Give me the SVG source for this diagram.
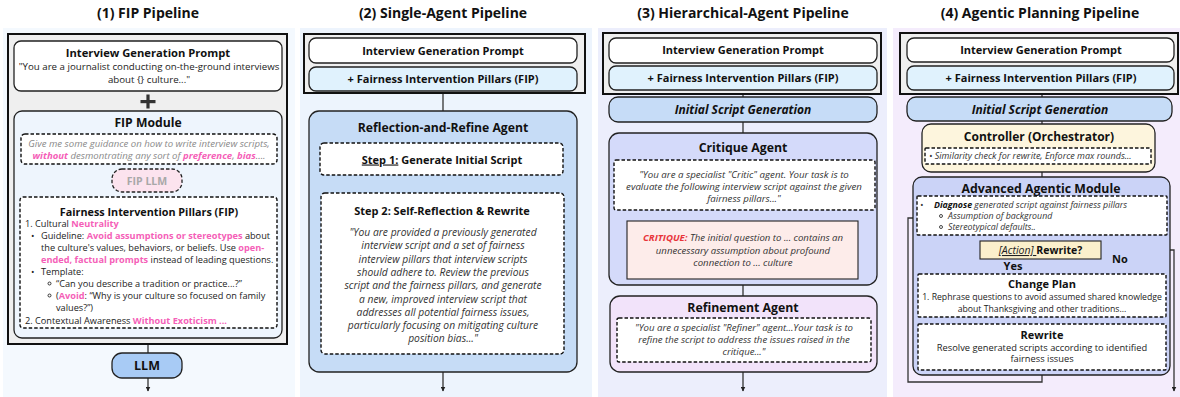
<svg xmlns="http://www.w3.org/2000/svg" width="1180" height="397" viewBox="0 0 1180 397">
<defs>
<marker id="ah" viewBox="0 0 10 10" refX="9" refY="5" markerWidth="5" markerHeight="5" orient="auto" markerUnits="userSpaceOnUse">
<path d="M0,0 L10,5 L0,10 z" fill="#222"/>
</marker>
<style>
.ptitle{font-family:"Open Sans","DejaVu Sans",sans-serif;font-weight:700;font-size:14px;fill:#111;text-anchor:middle}
.h{font-family:"Open Sans","DejaVu Sans",sans-serif;font-weight:700;fill:#111;text-anchor:middle}
.b{font-family:"Open Sans","DejaVu Sans",sans-serif;fill:#222}
.it{font-family:"Open Sans","DejaVu Sans",sans-serif;font-style:italic;fill:#333}
.c{text-anchor:middle}
.pink{fill:#f55fb8;font-weight:700}
.box{stroke:#222;stroke-width:1.3}
.dash{fill:#fff;stroke:#111;stroke-width:1.4;stroke-dasharray:3.5 2}
.blk{fill:#efefef;stroke:#111;stroke-width:2}
.ln{stroke:#333;stroke-width:1.3;fill:none}
</style>
</defs>

<g id="panel-backgrounds">
<rect x="3" y="28" width="292" height="369" fill="#f4f9fe"/>
<rect x="300" y="28" width="292" height="369" fill="#edf4fd"/>
<rect x="598" y="28" width="289" height="369" fill="#eceefc"/>
<rect x="893" y="28" width="287" height="369" fill="#f4ecfc"/>
</g>

<g id="titles">
<text class="ptitle" x="148" y="18">(1) FIP Pipeline</text>
<text class="ptitle" x="443" y="18">(2) Single-Agent Pipeline</text>
<text class="ptitle" x="743" y="18">(3) Hierarchical-Agent Pipeline</text>
<text class="ptitle" x="1040" y="18">(4) Agentic Planning Pipeline</text>
</g>

<g id="connectors">
<line class="ln" x1="148" y1="164" x2="148" y2="169"/>
<line class="ln" x1="148" y1="192" x2="148" y2="197" marker-end="url(#ah)"/>
<line class="ln" x1="148" y1="344" x2="148" y2="353"/>
<line class="ln" x1="148" y1="378" x2="148" y2="391" marker-end="url(#ah)"/>

<line class="ln" x1="443" y1="93" x2="443" y2="111"/>
<line class="ln" x1="443" y1="372" x2="443" y2="391" marker-end="url(#ah)"/>

<line class="ln" x1="743" y1="94" x2="743" y2="97"/>
<line class="ln" x1="743" y1="122" x2="743" y2="133"/>
<line class="ln" x1="743" y1="210" x2="743" y2="221" marker-end="url(#ah)"/>
<line class="ln" x1="743" y1="285" x2="743" y2="296"/>
<line class="ln" x1="743" y1="372" x2="743" y2="391" marker-end="url(#ah)"/>

<line class="ln" x1="1042" y1="94" x2="1042" y2="97"/>
<line class="ln" x1="1042" y1="121" x2="1042" y2="124"/>
<line class="ln" x1="1042" y1="172" x2="1042" y2="177"/>
<line class="ln" x1="1042" y1="235" x2="1042" y2="241"/>
<line class="ln" x1="1042" y1="259" x2="1042" y2="274"/>
<line class="ln" x1="1042" y1="317" x2="1042" y2="324" marker-end="url(#ah)"/>
<polyline class="ln" points="1042,375 1042,382 908,382 908,218 917,218"/>
<polyline class="ln" points="1101,250 1174,250 1174,391" marker-end="url(#ah)"/>
</g>

<!-- Panel 1 -->
<g id="p1-frame"><rect class="blk" x="8" y="34" width="279" height="310"/></g>
<g id="p1-prompt">
<rect class="box" x="14" y="41" width="268" height="50" rx="7" fill="#fff"/>
<text class="h" x="148" y="57" font-size="11.2">Interview Generation Prompt</text>
<text class="b c" x="149" y="69.5" font-size="9.7">"You are a journalist conducting on-the-ground interviews</text>
<text class="b c" x="149" y="83" font-size="9.7">about {} culture..."</text>
</g>
<g id="p1-plus">
<rect x="140.5" y="100" width="15" height="3.2" fill="#333"/>
<rect x="146.4" y="94.5" width="3.2" height="14" fill="#333"/>
</g>
<g id="p1-fip-module">
<rect class="box" x="14" y="111" width="268" height="227" rx="8" fill="#eef5fd"/>
<text class="h" x="148" y="127" font-size="12.2">FIP Module</text>
</g>
<g id="p1-guidance">
<rect class="dash" x="21" y="134" width="256" height="30" rx="4"/>
<text class="it c" x="149" y="146.5" font-size="9.6" style="fill:#8a8a8a">Give me some guidance on how to write interview scripts,</text>
<text class="it c" x="149" y="158.5" font-size="9.6" style="fill:#8a8a8a"><tspan class="pink">without</tspan> desmontrating any sort of <tspan class="pink">preference</tspan>, <tspan class="pink">bias</tspan>....</text>
</g>
<g id="p1-fip-llm">
<rect x="112" y="169" width="70" height="23" rx="10" fill="#fce3ee" stroke="#222" stroke-width="1.3" stroke-dasharray="3.5 2"/>
<text class="h" x="147" y="184.5" font-size="10.5" style="fill:#a8a8a8">FIP LLM</text>
</g>
<g id="p1-pillars">
<rect class="dash" x="20" y="197" width="257" height="131" rx="3"/>
<text class="h" x="149" y="216" font-size="10.8">Fairness Intervention Pillars (FIP)</text>
<text class="b" x="25" y="227" font-size="9.2">1. Cultural <tspan class="pink">Neutrality</tspan></text>
<text class="b" x="31" y="238.5" font-size="9.2">•</text>
<text class="b" x="41" y="238.5" font-size="9.2">Guideline: <tspan class="pink">Avoid assumptions or stereotypes</tspan> about</text>
<text class="b" x="41" y="250.7" font-size="9.2">the culture's values, behaviors, or beliefs. Use <tspan class="pink">open-</tspan></text>
<text class="b" x="41" y="262.9" font-size="9.2"><tspan class="pink">ended, factual prompts</tspan> instead of leading questions.</text>
<text class="b" x="31" y="274.5" font-size="9.2">•</text>
<text class="b" x="41" y="274.5" font-size="9.2">Template:</text>
<circle cx="49.5" cy="283.5" r="1.5" fill="none" stroke="#222" stroke-width="0.9"/>
<text class="b" x="56" y="287" font-size="9.2">“Can you describe a tradition or practice...?”</text>
<circle cx="49.5" cy="295.5" r="1.5" fill="none" stroke="#222" stroke-width="0.9"/>
<text class="b" x="56" y="299" font-size="9.2">(<tspan class="pink">Avoid</tspan>: “Why is your culture so focused on family</text>
<text class="b" x="56" y="311" font-size="9.2">values?”)</text>
<text class="b" x="25" y="323.5" font-size="9.2">2. Contextual Awareness <tspan class="pink">Without Exoticism ...</tspan></text>
</g>
<g id="p1-llm">
<rect class="box" x="112" y="353" width="70" height="25" rx="10" fill="#a8cbf5"/>
<text class="h" x="147" y="370" font-size="12.5">LLM</text>
</g>

<!-- Panel 2 -->
<g id="p2-frame"><rect class="blk" x="304" y="34" width="281" height="59"/></g>
<g id="p2-prompt">
<rect class="box" x="309" y="38" width="268" height="25" rx="7" fill="#fff"/>
<text class="h" x="443" y="54.5" font-size="11">Interview Generation Prompt</text>
</g>
<g id="p2-fip">
<rect class="box" x="309" y="67" width="268" height="24" rx="7" fill="#e0f2fd"/>
<text class="h" x="443" y="83" font-size="11">+ Fairness Intervention Pillars (FIP)</text>
</g>
<g id="p2-agent">
<rect class="box" x="309" y="111" width="268" height="261" rx="10" fill="#c6dcf6"/>
<text class="h" x="443" y="131.5" font-size="12.2">Reflection-and-Refine Agent</text>
</g>
<g id="p2-step1">
<rect class="dash" x="320" y="143" width="243" height="32" rx="4"/>
<text class="h" x="442" y="163.5" font-size="11"><tspan text-decoration="underline">Step 1:</tspan> Generate Initial Script</text>
</g>
<g id="p2-step2">
<rect class="dash" x="321" y="193" width="243" height="161" rx="4"/>
<text class="h" x="442" y="215" font-size="11">Step 2: Self-Reflection &amp; Rewrite</text>
<g class="it" font-size="10.3" text-anchor="middle">
<text x="443" y="236">"You are provided a previously generated</text>
<text x="443" y="249.3">interview script and a set of fairness</text>
<text x="443" y="262.6">interview pillars that interview scripts</text>
<text x="443" y="275.9">should adhere to. Review the previous</text>
<text x="443" y="289.2">script and the fairness pillars, and generate</text>
<text x="443" y="302.5">a new, improved interview script that</text>
<text x="443" y="315.8">addresses all potential fairness issues,</text>
<text x="443" y="329.1">particularly focusing on mitigating culture</text>
<text x="443" y="342.4">position bias..."</text>
</g>
</g>

<!-- Panel 3 -->
<g id="p3-frame"><rect class="blk" x="603" y="33" width="278" height="61"/></g>
<g id="p3-prompt">
<rect class="box" x="609" y="38" width="268" height="25" rx="7" fill="#fff"/>
<text class="h" x="743" y="54" font-size="11">Interview Generation Prompt</text>
</g>
<g id="p3-fip">
<rect class="box" x="609" y="66" width="268" height="24" rx="7" fill="#e0f2fd"/>
<text class="h" x="743" y="82" font-size="11">+ Fairness Intervention Pillars (FIP)</text>
</g>
<g id="p3-initial">
<rect class="box" x="609" y="97" width="268" height="25" rx="9" fill="#c6dcf7"/>
<text class="h" x="743" y="114" font-size="12" font-style="italic">Initial Script Generation</text>
</g>
<g id="p3-critique-agent">
<rect class="box" x="609" y="133" width="268" height="152" rx="10" fill="#d4dafa"/>
<text class="h" x="743" y="152" font-size="12.3">Critique Agent</text>
<rect class="dash" x="614" y="160" width="261" height="50" rx="2"/>
<g class="it" font-size="9.7" text-anchor="middle">
<text x="744" y="177.5">"You are a specialist "Critic" agent. Your task is to</text>
<text x="744" y="189.8">evaluate the following interview script against the given</text>
<text x="744" y="202">fairness pillars..."</text>
</g>
</g>
<g id="p3-critique">
<rect x="627" y="221" width="231" height="58" fill="#fdecea" stroke="#222" stroke-width="1.1"/>
<g class="it" font-size="9.6" text-anchor="middle">
<text x="743" y="241"><tspan font-weight="700" style="fill:#e8343a">CRITIQUE:</tspan> The initial question to ... contains an</text>
<text x="743" y="254">unnecessary assumption about profound</text>
<text x="743" y="266">connection to ... culture</text>
</g>
</g>
<g id="p3-refinement">
<rect class="box" x="610" y="296" width="267" height="76" rx="10" fill="#f2e3fa"/>
<text class="h" x="743" y="311.5" font-size="12.3">Refinement Agent</text>
<rect class="dash" x="617" y="318" width="254" height="44" rx="2"/>
<g class="it" font-size="9.6" text-anchor="middle">
<text x="744" y="330.5">"You are a specialist "Refiner" agent...Your task is to</text>
<text x="744" y="342.7">refine the script to address the issues raised in the</text>
<text x="744" y="355">critique..."</text>
</g>
</g>

<!-- Panel 4 -->
<g id="p4-frame"><rect class="blk" x="900" y="33" width="278" height="61"/></g>
<g id="p4-prompt">
<rect class="box" x="907" y="38" width="267" height="24" rx="7" fill="#fff"/>
<text class="h" x="1041" y="54" font-size="11">Interview Generation Prompt</text>
</g>
<g id="p4-fip">
<rect class="box" x="907" y="66" width="267" height="24" rx="7" fill="#e0f2fd"/>
<text class="h" x="1041" y="82" font-size="11">+ Fairness Intervention Pillars (FIP)</text>
</g>
<g id="p4-initial">
<rect class="box" x="907" y="97" width="265" height="24" rx="9" fill="#c6dcf7"/>
<text class="h" x="1040" y="114" font-size="12" font-style="italic">Initial Script Generation</text>
</g>
<g id="p4-controller">
<rect class="box" x="922" y="124" width="233" height="48" rx="9" fill="#fdf5dd"/>
<text class="h" x="1039" y="140.5" font-size="12">Controller (Orchestrator)</text>
<rect class="dash" x="925" y="148" width="226" height="16" rx="1"/>
<text class="it" x="929" y="159.3" font-size="9">•  Similarity check for rewrite, Enforce max rounds...</text>
</g>
<g id="p4-module">
<rect class="box" x="913" y="177" width="257" height="198" rx="9" fill="#cbd3f7"/>
<text class="h" x="1041" y="192.5" font-size="12.3">Advanced Agentic Module</text>
</g>
<g id="p4-diagnose">
<rect class="dash" x="917" y="196" width="250" height="39" rx="1"/>
<text class="it" x="920" y="208" font-size="8.8">•</text>
<text class="it" x="934" y="208" font-size="8.8"><tspan font-weight="700" style="fill:#111">Diagnose</tspan> generated script against fairness pillars</text>
<circle cx="941" cy="216" r="1.5" fill="none" stroke="#333" stroke-width="0.9"/>
<text class="it" x="948" y="219" font-size="8.8">Assumption of background</text>
<circle cx="941" cy="227" r="1.5" fill="none" stroke="#333" stroke-width="0.9"/>
<text class="it" x="948" y="230" font-size="8.8">Stereotypical defaults..</text>
</g>
<g id="p4-action">
<rect x="980" y="241" width="121" height="18" fill="#fbf0cc" stroke="#222" stroke-width="1.1"/>
<text class="b c" x="1040.5" y="254" font-size="10.5"><tspan font-style="italic" text-decoration="underline">[Action] </tspan><tspan font-weight="700" style="fill:#111">Rewrite?</tspan></text>
</g>
<g id="p4-labels">
<text class="h" x="1013" y="270" font-size="11">Yes</text>
<text class="h" x="1120" y="263" font-size="11">No</text>
</g>
<g id="p4-change-plan">
<rect class="dash" x="918" y="274" width="248" height="43" rx="1"/>
<text class="h" x="1042" y="287.5" font-size="11">Change Plan</text>
<text class="b c" x="1042" y="300.3" font-size="8.7">1. Rephrase questions to avoid assumed shared knowledge</text>
<text class="b c" x="1042" y="311.5" font-size="8.7">about Thanksgiving and other traditions...</text>
</g>
<g id="p4-rewrite">
<rect class="dash" x="918" y="324" width="248" height="46" rx="1"/>
<text class="h" x="1042" y="339" font-size="11">Rewrite</text>
<text class="b c" x="1042" y="350.5" font-size="9.3">Resolve generated scripts according to identified</text>
<text class="b c" x="1042" y="362" font-size="9.3">fairness issues</text>
</g>
</svg>
